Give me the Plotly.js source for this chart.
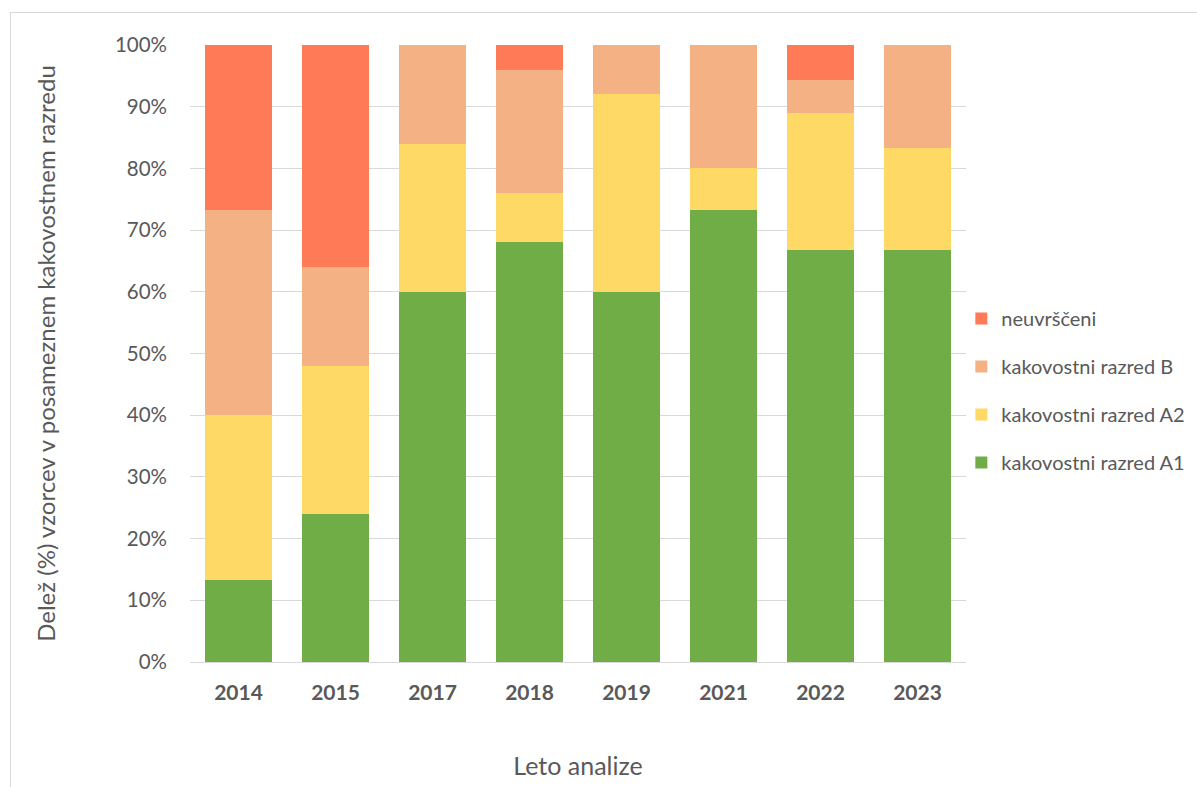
<!DOCTYPE html>
<html>
<head>
<meta charset="utf-8">
<script src="https://cdn.plot.ly/plotly-3.0.1.min.js"></script>
<style>
html,body{margin:0;padding:0;background:#fff;overflow:hidden;}
#frame{position:absolute;left:10px;top:12px;width:1200px;height:800px;border:1px solid #D9D9D9;box-sizing:border-box;}
#clip{position:absolute;left:0;top:0;width:1197px;height:787px;overflow:hidden;}
#chart{position:absolute;left:0;top:0;width:1300px;height:787px;}
</style>
</head>
<body>
<div id="frame"></div>
<div id="clip"><div id="chart"></div></div>
<script>
const years = ['2014','2015','2017','2018','2019','2021','2022','2023'];
const seriesNames = ['kakovostni razred A1','kakovostni razred A2','kakovostni razred B','neuvrščeni'];
const A1 = [13.3, 24, 60, 68, 60, 73.3, 66.7, 66.7];
const A2 = [26.7, 24, 24, 8, 32, 6.7, 22.2, 16.6];
const B  = [33.3, 16, 16, 20, 8, 20, 5.5, 16.7];
const N  = [26.7, 36, 0, 4, 0, 0, 5.6, 0];
const colors = ['#70AD47','#FFD966','#F4B183','#FF7A56'];
const yTicks = [0,10,20,30,40,50,60,70,80,90,100];
const yTickText = yTicks.map(v => v + '%');

const allVals = [A1, A2, B, N];
const font = 'Lato, "Liberation Sans", sans-serif';
const traces = allVals.map((vals, i) => ({
  type: 'bar',
  x: years,
  y: vals,
  name: seriesNames[i],
  legendgroup: 'g' + i,
  legendrank: 10 - i,
  marker: {color: colors[i], line: {width: 0}},
  hoverinfo: 'x+y+name'
}));

const layout = {
  width: 1300, height: 787,
  margin: {l: 190, r: 334, t: 45, b: 125},
  paper_bgcolor: 'rgba(0,0,0,0)',
  plot_bgcolor: '#fff',
  barmode: 'stack',
  bargap: 0.31,
  font: {family: font, color: '#595959', size: 20},
  xaxis: {
    type: 'category',
    tickfont: {family: font, size: 21, color: '#595959', weight: 'bold'},
    ticklabelstandoff: 12,
    showline: true, linecolor: '#D9D9D9', linewidth: 1,
    ticks: '', showgrid: false,
    title: {text: 'Leto analize', font: {family: font, size: 25, color: '#595959'}, standoff: 54}
  },
  yaxis: {
    range: [0, 100],
    tickvals: yTicks, ticktext: yTickText,
    tickfont: {family: font, size: 20.5, color: '#595959'},
    ticklabelstandoff: 22,
    showgrid: true, gridcolor: '#D9D9D9', gridwidth: 1,
    zeroline: false, ticks: '', ticklen: 0,
    title: {text: 'Delež (%) vzorcev v posameznem kakovostnem razredu', font: {family: font, size: 24, color: '#595959'}, standoff: 52}
  },
  legend: {
    x: 0.994, xanchor: 'left', y: 0.44, yanchor: 'middle',
    traceorder: 'grouped',
    tracegroupgap: 19,
    font: {family: font, size: 20, color: '#595959'},
    itemwidth: 30
  },
  showlegend: true
};

Plotly.newPlot('chart', traces, layout, {displayModeBar: false, staticPlot: true});
</script>
</body>
</html>
